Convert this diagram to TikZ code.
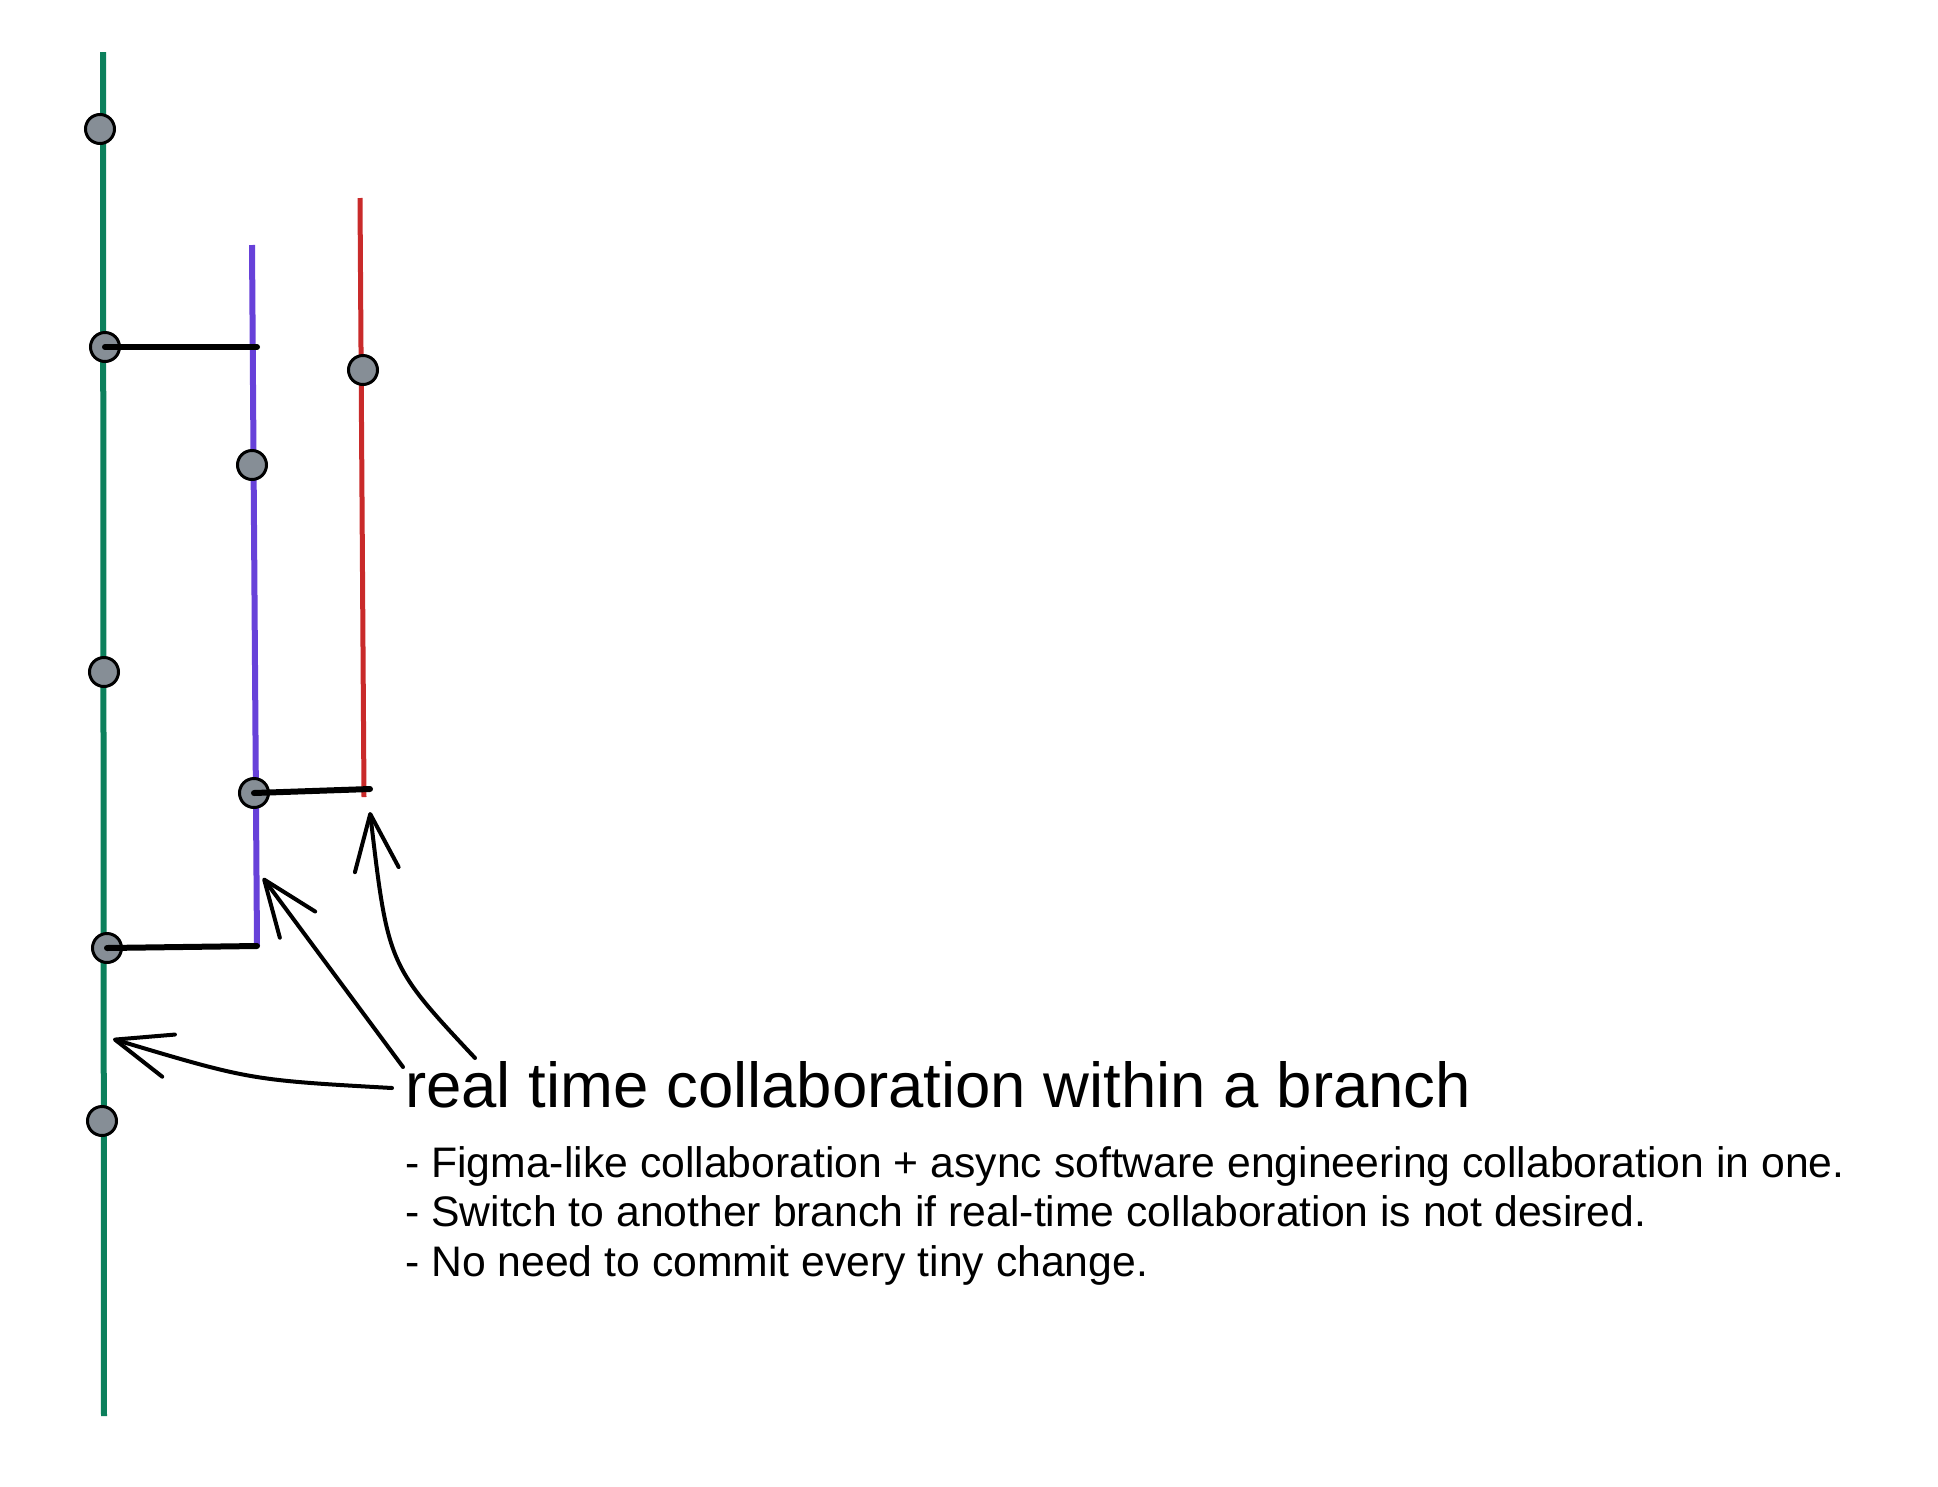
\documentclass[tikz,border=0pt]{standalone}
\usepackage{fontspec}
\setmainfont{Liberation Sans}
\usepackage{xcolor}
\usetikzlibrary{arrows.meta, positioning}
\definecolor{mainline}{RGB}{12,128,92}
\definecolor{featureline}{RGB}{103,65,217}
\definecolor{liveline}{RGB}{201,42,42}
\definecolor{commitgray}{RGB}{134,142,150}

\begin{document}
\begin{tikzpicture}[x=1pt, y=-1pt,
    branch/.style={line width=6pt},
    commit/.style={circle, draw=black, line width=3pt, fill=commitgray, minimum size=29pt, inner sep=0pt},
    merge/.style={line width=6pt, black, line cap=round},
    callout/.style={line width=4pt, line cap=round, -{Straight Barb[length=56pt, width=44pt, round]}}]
    \useasboundingbox (0,0) rectangle (1938,1486);

    % branches
    \coordinate (main top) at (103,52);
    \coordinate (main end) at (104,1416);
    \coordinate (feature top) at (252,245);
    \coordinate (feature end) at (257,946);
    \coordinate (live top) at (360,198);
    \coordinate (live end) at (364,797);
    \draw[branch, mainline] (main top) -- (main end);
    \draw[branch, featureline] (feature top) -- (feature end);
    \draw[branch, liveline, line width=5pt] (live top) -- (live end);

    % commits
    \node[commit] (m1) at (100,129) {};
    \node[commit] (m2) at (105,347) {};
    \node[commit] (m3) at (104,672) {};
    \node[commit] (m4) at (107,948) {};
    \node[commit] (m5) at (102,1121) {};
    \node[commit] (f1) at (252,465) {};
    \node[commit] (f2) at (254,793) {};
    \node[commit] (l1) at (363,370) {};

    % forks and merges
    \coordinate (feature fork) at (257,347);
    \coordinate (live fork) at (370,789);
    \draw[merge] (m2.center) -- (feature fork);
    \draw[merge] (f2.center) -- (live fork);
    \draw[merge] (m4.center) -- (feature end);

    % text
    \node[anchor=base west, inner sep=0pt, font=\fontsize{63.5}{68}\selectfont] (title) at (405,1107) {real time collaboration within a branch};
    \node[anchor=north west, inner sep=0pt, align=left, font=\fontsize{42.7}{49.5}\selectfont] (notes) at (405,1146) {
        - Figma-like collaboration + async software engineering collaboration in one. \\
        - Switch to another branch if real-time collaboration is not desired. \\
        - No need to commit every tiny change.
    };

    % callouts
    \coordinate (main tip) at (113,1039);
    \coordinate (feature tip) at (263,878);
    \coordinate (live tip) at (370,812);
    \coordinate (from main) at (392,1088);
    \coordinate (from feature) at (403,1067);
    \coordinate (from live) at (475,1058);
    \draw[callout] (from main) .. controls (250,1080) .. (main tip);
    \draw[callout] (from feature) -- (feature tip);
    \draw[callout] (from live) .. controls (388,965) .. (live tip);
\end{tikzpicture}
\end{document}
